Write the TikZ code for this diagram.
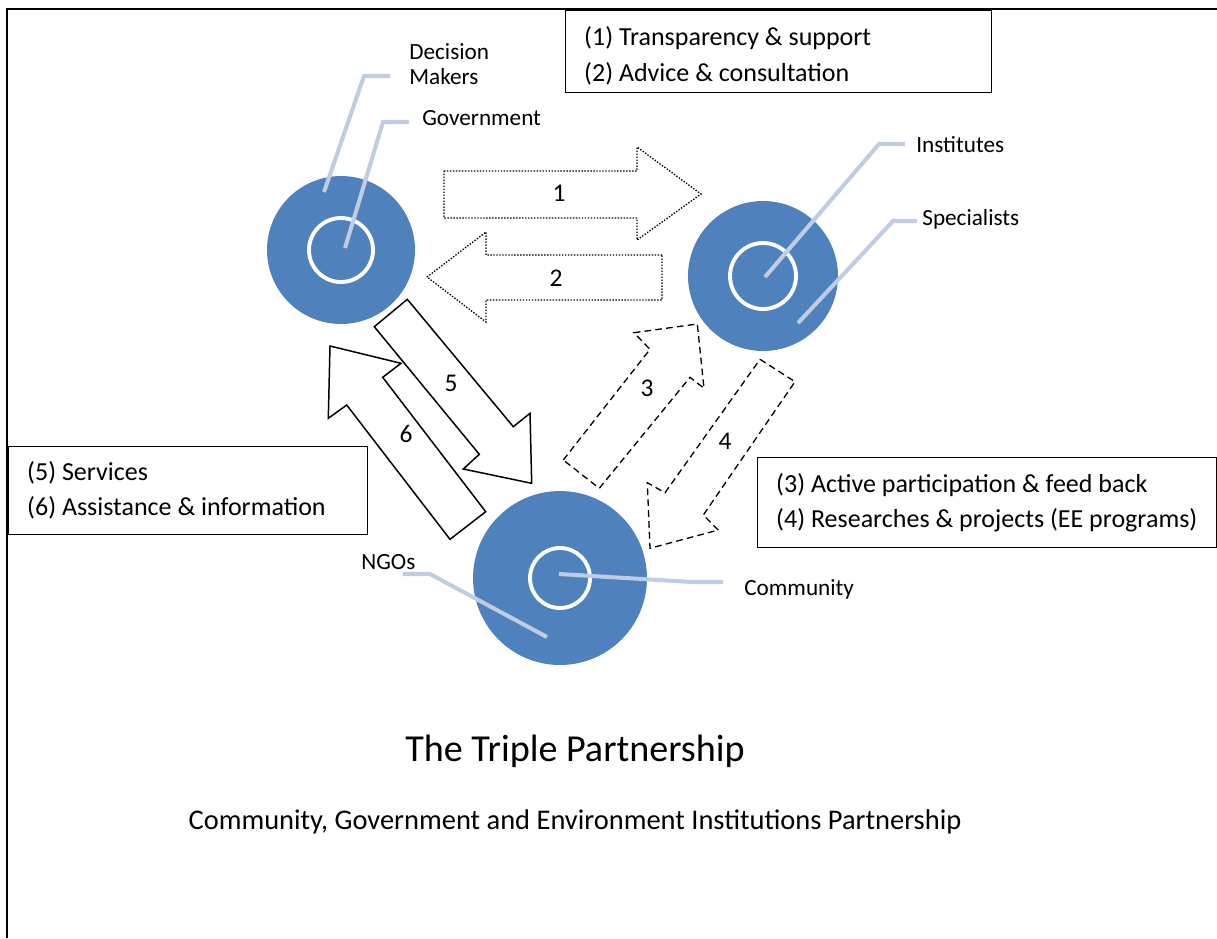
\documentclass[tikz,border=0pt]{standalone}
\usepackage{fontspec}
\setmainfont{Carlito}
\usepackage{tikz}
\usetikzlibrary{calc}

\definecolor{azul}{RGB}{79,129,189}
\definecolor{guiagris}{RGB}{192,204,226}

\begin{document}
\begin{tikzpicture}[x=0.02cm,y=-0.02cm,
	circulo/.style={circle,fill=azul,inner sep=0pt},
	anillo/.style={draw=white,line width=2.2pt},
	guia/.style={draw=guiagris,line width=2.3pt},
	etiq/.style={anchor=west,inner sep=0pt,align=left,font=\fontsize{13.2}{14.2}\selectfont},
	caja/.style={draw,line width=0.8pt,anchor=north west,align=flush left,inner xsep=0.37cm,font=\fontsize{14.8}{20}\selectfont},
	punteada/.style={line width=0.75pt,dash pattern=on 0.8pt off 0.9pt},
	rayada/.style={line width=0.75pt,dash pattern=on 3.8pt off 2.4pt},
	solida/.style={line width=0.85pt},
	num/.style={font=\fontsize{14.5}{17}\selectfont}]
	
	\useasboundingbox (0,0) rectangle (1217,938);
	
	% Marco
	\draw[line width=1.5pt] (7,938) -- (7,9) -- (1217,9);
	
	% Cuadros de texto
	\node[caja,text width=7.78cm,minimum height=1.64cm] (caja12) at (565,10) {\rule{0pt}{15.5pt}(1) Transparency \& support\\(2) Advice \& consultation};
	\node[caja,text width=6.44cm,minimum height=1.76cm] (caja56) at (8,446) {(5) Services\\(6) Assistance \& information};
	\node[caja,text width=8.44cm,minimum height=1.8cm] (caja34) at (757,457) {(3) Active participation \& feed back\\(4) Researches \& projects (EE programs)};
	
	% Flechas 1 y 2 (punteadas)
	\draw[punteada] (444,171) -- (637,171) -- (637,147) -- (701,194) -- (637,240) -- (637,218) -- (444,218) -- cycle;
	\draw[punteada] (662,255) -- (486,255) -- (486,232) -- (427,277) -- (486,322) -- (486,300) -- (662,300) -- cycle;
	\node[num] (n1) at (559,193) {1};
	\node[num] (n2) at (556,278) {2};
	
	% Flechas 3 y 4 (rayadas)
	\draw[rayada] (563.3,460) -- (650,349.3) -- (634,332.7) -- (697.3,324) -- (704,388.3) -- (690,377.3) -- (599.3,488.3) -- cycle;
	\draw[rayada] (760,359.3) -- (795,381.7) -- (703.3,515) -- (718.3,530) -- (650,548.3) -- (647.3,482.7) -- (665,492.7) -- cycle;
	\node[num] (n3) at (647,388) {3};
	\node[num] (n4) at (725,441) {4};
	
	% Flechas 5 y 6
	\draw[solida] (374.3,326.7) -- (407.3,299.3) -- (513.3,426.7) -- (530,413.3) -- (531.7,483.3) -- (463.3,469) -- (479.3,454.3) -- cycle;
	\draw[solida] (450,539.3) -- (485.7,511.7) -- (382.7,377.3) -- (401,363.3) -- (330,346) -- (328.3,418.3) -- (346.7,405) -- cycle;
	\node[num] (n5) at (451,383) {5};
	\node[num] (n6) at (406,434) {6};
	
	% Circulos
	\node[circulo,minimum size=2.96cm] (gob) at (341,250) {};
	\node[circulo,minimum size=3cm] (inst) at (763,276) {};
	\node[circulo,minimum size=3.48cm] (com) at (560,578) {};
	\draw[anillo] (gob) circle [radius=32];
	\draw[anillo] (inst) circle [radius=33];
	\draw[anillo] (com) circle [radius=30];
	
	% Etiquetas
	\node[etiq] (dm) at (409,64.5) {Decision\\Makers};
	\node[etiq] (gobt) at (422,118) {Government};
	\node[etiq] (instt) at (916,145) {Institutes};
	\node[etiq] (spec) at (922,219) {Specialists};
	\node[etiq] (comt) at (744,589) {Community};
	\node[etiq] (ngo) at (361,562) {NGOs};
	
	% Lineas guia
	\draw[guia,shorten >=0.38cm] ($(gob)+(-17,-58)$) -- (364,76) -- (dm.west |- 0,76);
	\draw[guia,shorten >=0.26cm] ($(gob)+(4,-2)$) -- (383,122) -- (gobt.west |- 0,122);
	\draw[guia,shorten >=0.22cm] ($(inst)+(2,1)$) -- (879,144) -- (instt.west |- 0,144);
	\draw[guia,shorten >=0.1cm] ($(inst)+(35,47)$) -- (893,221) -- (spec.west |- 0,221);
	\draw[guia,shorten >=0.42cm] ($(com)+(-1,-4)$) -- (692,582) -- (comt.west |- 0,582);
	\draw[guia,shorten >=-0.26cm] ($(com)+(-13,59)$) -- (430,574) -- (ngo.east |- 0,574);
	
	% Titulo
	\node[font=\fontsize{21.7}{24}\selectfont] (titulo) at (575,751) {The Triple Partnership};
	\node[font=\fontsize{16.2}{19}\selectfont] (subtitulo) at (575,822) {Community, Government and Environment Institutions Partnership};
\end{tikzpicture}
\end{document}
